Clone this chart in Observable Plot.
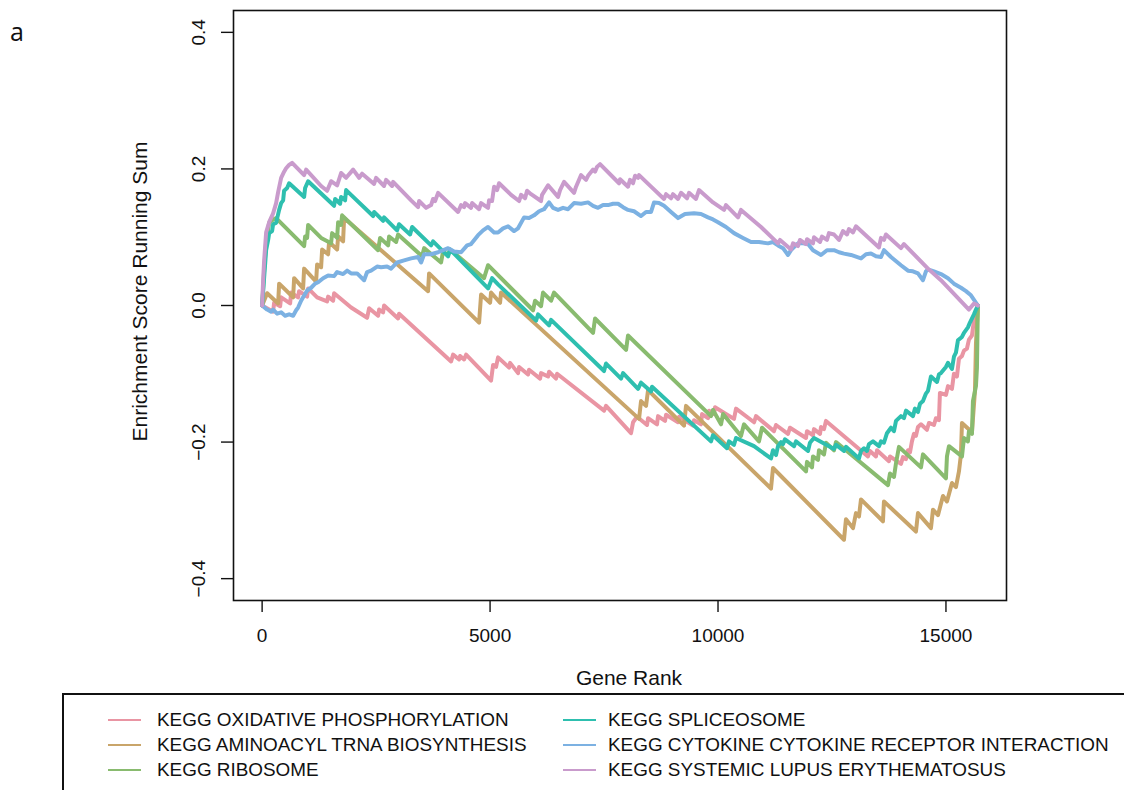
<!DOCTYPE html>
<html>
<head>
<meta charset="utf-8">
<script src="https://cdn.jsdelivr.net/npm/d3@7"></script>
<script src="https://cdn.jsdelivr.net/npm/@observablehq/plot@0.6"></script>
<style>
  html, body { margin: 0; padding: 0; background: #fff; overflow: hidden; }
  #wrap { position: relative; width: 1124px; height: 790px; font-family: "Liberation Sans", Arial, Helvetica, sans-serif; }
  #panel { position: absolute; left: 10px; top: 16px; font-family: "Open Sans", sans-serif; font-size: 25px; line-height: 30px; color: #111; }
  #legend { position: absolute; left: 62px; top: 693px; width: 1120px; height: 140px; border: 2px solid #111; box-sizing: border-box; }
  .lg-line { position: absolute; width: 33px; height: 2.5px; }
  .lg-text { position: absolute; font-size: 18.9px; line-height: 22px; color: #111; white-space: nowrap; }
</style>
</head>
<body>
<div id="wrap">
  <div id="chart"></div>
  <div id="panel">a</div>
  <div id="legend"></div>
</div>
<script>
// ---- data -------------------------------------------------------------
const pathways = [
  "KEGG OXIDATIVE PHOSPHORYLATION",
  "KEGG AMINOACYL TRNA BIOSYNTHESIS",
  "KEGG RIBOSOME",
  "KEGG SPLICEOSOME",
  "KEGG CYTOKINE CYTOKINE RECEPTOR INTERACTION",
  "KEGG SYSTEMIC LUPUS ERYTHEMATOSUS"
];
const colors = ["#E995A3", "#C9A56A", "#89BB6F", "#2EBFAF", "#7CB1E2", "#C99BCC"];

const xTicks = [0, 5000, 10000, 15000];
const yTicks = [-0.4, -0.2, 0, 0.2, 0.4];
const nGenes = 15700;

// [gene rank, running enrichment score]
const oxidativePhosphorylation = [[0,0],[241,-0.009],[263,0.004],[395,-0.001],[417,0.012],[614,0.003],[636,0.019],[789,0.012],[811,0.021],[987,0.013],[1009,0.025],[1206,0.012],[1425,0.006],[1447,0.013],[1557,0.007],[1579,0.018],[1952,-0.003],[2303,-0.018],[2347,-0.004],[2544,-0.015],[2566,-0.006],[2654,-0.010],[2675,0.000],[2982,-0.019],[3004,-0.012],[4145,-0.082],[4189,-0.072],[4320,-0.079],[4342,-0.074],[4430,-0.079],[4474,-0.072],[5022,-0.110],[5066,-0.087],[5132,-0.090],[5175,-0.076],[5417,-0.091],[5439,-0.084],[5614,-0.099],[5636,-0.090],[5833,-0.101],[5855,-0.094],[6097,-0.107],[6118,-0.099],[6272,-0.104],[6294,-0.097],[6447,-0.107],[6469,-0.100],[7500,-0.154],[7544,-0.147],[8092,-0.187],[8136,-0.171],[8224,-0.163],[8443,-0.175],[8465,-0.165],[8662,-0.174],[8684,-0.162],[8838,-0.169],[8860,-0.160],[9123,-0.171],[9145,-0.163],[9452,-0.176],[9474,-0.168],[9627,-0.174],[9649,-0.159],[9781,-0.165],[9803,-0.154],[9912,-0.159],[9934,-0.149],[10351,-0.166],[10395,-0.151],[10790,-0.171],[10834,-0.162],[11228,-0.184],[11272,-0.175],[11535,-0.188],[11579,-0.179],[11930,-0.194],[11952,-0.184],[12083,-0.190],[12105,-0.181],[12237,-0.188],[12259,-0.178],[12325,-0.181],[12368,-0.169],[13289,-0.221],[13333,-0.213],[13465,-0.221],[13487,-0.212],[13750,-0.228],[13772,-0.221],[14013,-0.232],[14057,-0.222],[14123,-0.225],[14167,-0.212],[14211,-0.215],[14254,-0.199],[14298,-0.188],[14342,-0.191],[14386,-0.178],[14452,-0.174],[14583,-0.182],[14627,-0.172],[14737,-0.175],[14781,-0.165],[14846,-0.168],[14868,-0.128],[15000,-0.131],[15044,-0.118],[15132,-0.122],[15175,-0.100],[15241,-0.104],[15285,-0.078],[15351,-0.074],[15395,-0.066],[15461,-0.063],[15504,-0.050],[15570,-0.044],[15614,-0.022],[15658,-0.010],[15700,0]];

const aminoacylTrnaBiosynthesis = [[0,0],[110,0.018],[351,0.003],[373,0.032],[680,0.012],[702,0.040],[899,0.025],[921,0.054],[1184,0.035],[1206,0.060],[1294,0.056],[1316,0.082],[1447,0.075],[1469,0.093],[1645,0.082],[1667,0.101],[1776,0.094],[1798,0.128],[3640,0.021],[3662,0.047],[4759,-0.025],[4803,0.016],[5000,0.004],[5022,0.019],[5219,0.004],[5241,0.019],[8268,-0.166],[8311,-0.140],[8421,-0.147],[8465,-0.124],[8575,-0.131],[9254,-0.176],[9298,-0.147],[11162,-0.268],[11206,-0.238],[12763,-0.343],[12807,-0.313],[12961,-0.326],[13026,-0.304],[13092,-0.309],[13136,-0.284],[13618,-0.316],[13640,-0.287],[14342,-0.331],[14386,-0.304],[14671,-0.326],[14715,-0.299],[14825,-0.307],[14934,-0.279],[15022,-0.287],[15132,-0.260],[15219,-0.266],[15285,-0.243],[15329,-0.218],[15351,-0.172],[15482,-0.180],[15570,-0.186],[15636,-0.125],[15658,-0.056],[15700,0]];

const ribosome = [[0,0],[44,0.051],[88,0.093],[154,0.121],[241,0.126],[307,0.128],[921,0.087],[943,0.101],[987,0.099],[1009,0.118],[1294,0.099],[1513,0.091],[1535,0.106],[1645,0.099],[1667,0.122],[1732,0.118],[1754,0.132],[2544,0.081],[2588,0.099],[2763,0.088],[2785,0.101],[2939,0.093],[2982,0.104],[3509,0.072],[3553,0.084],[3925,0.063],[3969,0.079],[4079,0.074],[4123,0.082],[4868,0.040],[4956,0.059],[5943,-0.007],[5987,0.007],[6118,-0.001],[6162,0.019],[6338,0.007],[6404,0.019],[7259,-0.040],[7303,-0.019],[7983,-0.065],[8026,-0.044],[9846,-0.162],[9890,-0.153],[10066,-0.174],[10110,-0.159],[10504,-0.191],[10570,-0.174],[10899,-0.199],[10965,-0.179],[11930,-0.243],[11952,-0.229],[12062,-0.237],[12083,-0.221],[12193,-0.226],[12215,-0.212],[12325,-0.218],[12368,-0.201],[12544,-0.212],[12588,-0.200],[13728,-0.263],[13772,-0.246],[13860,-0.251],[13904,-0.231],[13969,-0.207],[14452,-0.237],[14496,-0.218],[15000,-0.253],[15022,-0.221],[15066,-0.206],[15351,-0.221],[15395,-0.194],[15482,-0.199],[15504,-0.184],[15570,-0.188],[15592,-0.140],[15658,-0.118],[15680,-0.091],[15700,0]];

const spliceosome = [[0,0],[44,0.041],[88,0.081],[132,0.096],[154,0.106],[219,0.109],[241,0.119],[307,0.121],[373,0.140],[417,0.150],[461,0.154],[482,0.168],[548,0.172],[592,0.179],[921,0.159],[943,0.172],[1009,0.182],[1579,0.146],[1601,0.156],[1711,0.149],[1732,0.159],[1820,0.154],[1842,0.169],[2434,0.131],[2456,0.137],[2654,0.124],[2675,0.129],[2960,0.110],[3004,0.119],[3246,0.104],[3290,0.115],[3706,0.088],[3750,0.094],[4079,0.072],[4123,0.082],[4956,0.025],[5044,0.040],[5175,0.031],[6009,-0.022],[6053,-0.013],[6294,-0.029],[6338,-0.021],[7500,-0.096],[7544,-0.085],[7873,-0.107],[7917,-0.099],[8246,-0.122],[8311,-0.113],[8531,-0.126],[8553,-0.119],[9846,-0.199],[9890,-0.190],[10197,-0.209],[10241,-0.199],[10351,-0.204],[10395,-0.194],[10790,-0.206],[11162,-0.224],[11206,-0.212],[11272,-0.219],[11316,-0.206],[11382,-0.200],[11425,-0.203],[11469,-0.196],[11667,-0.206],[11710,-0.199],[11974,-0.213],[12017,-0.201],[12105,-0.194],[12544,-0.210],[12588,-0.204],[12763,-0.213],[12807,-0.207],[13092,-0.224],[13136,-0.213],[13202,-0.209],[13267,-0.213],[13311,-0.203],[13399,-0.199],[13531,-0.206],[13575,-0.199],[13640,-0.201],[13706,-0.187],[13794,-0.179],[13860,-0.184],[13904,-0.169],[14013,-0.162],[14079,-0.165],[14123,-0.154],[14276,-0.162],[14320,-0.151],[14386,-0.156],[14430,-0.144],[14496,-0.140],[14561,-0.129],[14605,-0.125],[14671,-0.104],[14803,-0.112],[14846,-0.101],[14890,-0.099],[15000,-0.090],[15044,-0.084],[15132,-0.093],[15175,-0.075],[15219,-0.069],[15263,-0.051],[15351,-0.046],[15395,-0.040],[15482,-0.032],[15526,-0.025],[15614,-0.013],[15658,-0.006],[15700,0]];

const cytokineReceptorInteraction = [[0,0],[110,-0.006],[197,-0.009],[241,-0.006],[329,-0.012],[417,-0.010],[504,-0.015],[592,-0.013],[680,-0.015],[746,-0.007],[789,-0.003],[855,0.007],[899,0.012],[987,0.022],[1075,0.026],[1162,0.032],[1228,0.034],[1338,0.040],[1447,0.044],[1579,0.043],[1645,0.049],[1776,0.046],[1864,0.051],[1952,0.047],[2083,0.047],[2237,0.037],[2303,0.049],[2390,0.051],[2522,0.057],[2610,0.056],[2741,0.057],[2829,0.054],[2960,0.063],[3114,0.066],[3268,0.069],[3421,0.071],[3487,0.063],[3553,0.075],[3706,0.075],[3860,0.078],[4079,0.084],[4211,0.079],[4364,0.078],[4496,0.088],[4583,0.090],[4737,0.103],[4846,0.110],[4956,0.115],[5088,0.107],[5175,0.107],[5285,0.113],[5395,0.116],[5526,0.109],[5614,0.113],[5746,0.129],[5855,0.128],[5965,0.132],[6075,0.138],[6184,0.141],[6294,0.151],[6382,0.143],[6491,0.140],[6601,0.143],[6711,0.141],[6842,0.150],[6996,0.149],[7149,0.151],[7259,0.146],[7368,0.143],[7478,0.147],[7588,0.147],[7697,0.149],[7807,0.149],[7917,0.144],[8026,0.140],[8158,0.138],[8311,0.131],[8421,0.137],[8531,0.137],[8597,0.151],[8706,0.150],[8816,0.146],[8969,0.137],[9123,0.128],[9276,0.134],[9474,0.135],[9627,0.134],[9781,0.129],[9890,0.126],[10000,0.122],[10175,0.115],[10351,0.106],[10548,0.099],[10724,0.093],[10899,0.093],[11096,0.091],[11206,0.093],[11316,0.088],[11425,0.084],[11535,0.074],[11601,0.081],[11689,0.087],[11754,0.091],[11864,0.091],[11974,0.090],[12083,0.081],[12259,0.074],[12390,0.081],[12544,0.081],[12654,0.078],[12763,0.076],[12917,0.074],[13136,0.069],[13246,0.075],[13355,0.076],[13465,0.072],[13575,0.071],[13640,0.081],[13794,0.071],[14013,0.059],[14167,0.051],[14276,0.050],[14386,0.047],[14496,0.037],[14561,0.050],[14605,0.053],[14737,0.050],[14890,0.046],[15044,0.040],[15175,0.032],[15329,0.026],[15439,0.021],[15548,0.015],[15700,0]];

const systemicLupusErythematosus = [[0,0],[22,0.037],[44,0.066],[88,0.107],[154,0.122],[241,0.135],[307,0.150],[351,0.166],[417,0.187],[482,0.196],[526,0.201],[592,0.206],[658,0.209],[921,0.191],[965,0.199],[1294,0.175],[1425,0.168],[1513,0.182],[1645,0.176],[1732,0.194],[1842,0.187],[1996,0.199],[2127,0.187],[2193,0.193],[2456,0.178],[2500,0.187],[2675,0.175],[2719,0.184],[2851,0.175],[2873,0.181],[3268,0.154],[3421,0.144],[3443,0.153],[3597,0.143],[3706,0.147],[3750,0.156],[3794,0.153],[3860,0.165],[4298,0.137],[4364,0.147],[4430,0.144],[4452,0.150],[4583,0.143],[4605,0.150],[4759,0.141],[4803,0.150],[4956,0.143],[4978,0.154],[5044,0.153],[5088,0.174],[5154,0.169],[5197,0.179],[5461,0.162],[5636,0.153],[5680,0.162],[5768,0.157],[5811,0.168],[5899,0.163],[6118,0.153],[6140,0.162],[6272,0.176],[6491,0.159],[6535,0.169],[6623,0.181],[6842,0.165],[6886,0.174],[6996,0.191],[7105,0.184],[7149,0.190],[7259,0.199],[7303,0.196],[7346,0.203],[7412,0.207],[7829,0.179],[7851,0.185],[8026,0.174],[8070,0.184],[8136,0.179],[8180,0.190],[8246,0.187],[8268,0.191],[8531,0.174],[8816,0.156],[8860,0.163],[8969,0.157],[9013,0.163],[9123,0.156],[9189,0.165],[9320,0.157],[9364,0.165],[9517,0.156],[9583,0.169],[9890,0.151],[10132,0.140],[10175,0.147],[10439,0.129],[10504,0.140],[10943,0.115],[11316,0.091],[11360,0.096],[11601,0.082],[11645,0.091],[11754,0.087],[11798,0.096],[11930,0.090],[11952,0.097],[12083,0.091],[12105,0.100],[12237,0.093],[12281,0.101],[12390,0.096],[12434,0.106],[12544,0.104],[12654,0.096],[12741,0.109],[12829,0.104],[12873,0.112],[12961,0.107],[13026,0.116],[13531,0.085],[13575,0.099],[13640,0.096],[13684,0.104],[14013,0.084],[14079,0.090],[14605,0.054],[14890,0.037],[15504,-0.006],[15614,0.003],[15700,0]];

const seriesValues = [
  oxidativePhosphorylation,
  aminoacylTrnaBiosynthesis,
  ribosome,
  spliceosome,
  cytokineReceptorInteraction,
  systemicLupusErythematosus
];

// ---- table built from the arrays ---------------------------------------
const rows = seriesValues.flatMap((pts, i) =>
  pts.map(([rank, es]) => ({pathway: pathways[i], rank, es}))
);

const xPad = nGenes * 0.04;
const yPad = 0.8 * 0.04;

const font = '"Liberation Sans", Arial, Helvetica, sans-serif';

const chart = Plot.plot({
  width: 1124,
  height: 690,
  marginLeft: 233,
  marginRight: 118,
  marginTop: 10,
  marginBottom: 90,
  style: {fontFamily: font, fontSize: "19px", color: "#111", background: "#fff"},
  x: {domain: [-xPad, nGenes + xPad]},
  y: {domain: [-0.4 - yPad, 0.4 + yPad]},
  color: {type: "ordinal", domain: pathways, range: colors},
  marks: [
    Plot.line(rows, {x: "rank", y: "es", z: "pathway", stroke: "pathway",
      strokeWidth: 4, strokeLinejoin: "round", strokeLinecap: "round"}),
    Plot.frame({stroke: "#111", strokeWidth: 1.6}),
    Plot.axisX({ticks: xTicks, tickSize: 12, tickPadding: 16, strokeWidth: 1.4,
      tickFormat: d => String(d), label: null, fontSize: 19}),
    Plot.axisY({ticks: yTicks, tickSize: 12, tickPadding: 17, tickRotate: -90, strokeWidth: 1.4,
      tickFormat: d3.format(".1f"), label: null, fontSize: 19}),
    Plot.text(["Gene Rank"], {frameAnchor: "bottom", dy: 78, dx: 9, text: d => d,
      fontSize: 21, lineAnchor: "middle", fill: "#111"}),
    Plot.text(["Enrichment Score Running Sum"], {frameAnchor: "left", dx: -93, dy: -14, text: d => d,
      rotate: -90, fontSize: 21, lineAnchor: "middle", textAnchor: "middle", fill: "#111"})
  ]
});
document.getElementById("chart").appendChild(chart);

// ---- legend ------------------------------------------------------------
const legend = document.getElementById("legend");
const colLine = [44, 499];
const colText = [93, 544];
pathways.forEach((name, i) => {
  const col = i < 3 ? 0 : 1;
  const row = i % 3;
  const cy = 25 + row * 25;
  const ln = document.createElement("div");
  ln.className = "lg-line";
  ln.style.left = colLine[col] + "px";
  ln.style.top = (cy - 1.25) + "px";
  ln.style.background = colors[i];
  legend.appendChild(ln);
  const tx = document.createElement("div");
  tx.className = "lg-text";
  tx.style.left = colText[col] + "px";
  tx.style.top = (cy - 11) + "px";
  tx.textContent = name;
  legend.appendChild(tx);
});
</script>
</body>
</html>
